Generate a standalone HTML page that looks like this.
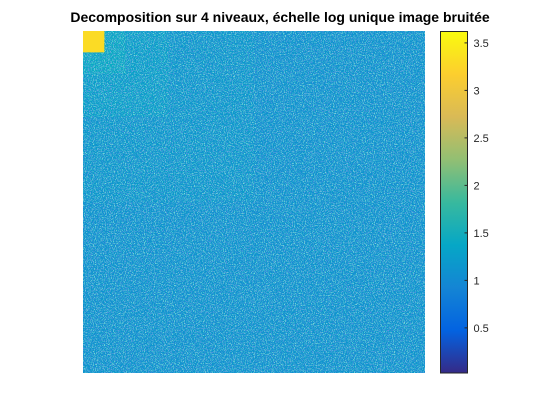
<!DOCTYPE html>
<html><head><meta charset="utf-8">
<style>
body{margin:0;background:#fff;}
svg{display:block;font-family:"Liberation Sans",sans-serif;}
</style></head>
<body>
<svg id="fig" width="560" height="420" viewBox="0 0 560 420">
  <defs>
    <filter id="noise" x="0" y="0" width="100%" height="100%">
      <feTurbulence type="fractalNoise" baseFrequency="0.95" numOctaves="2" seed="3"/>
      <feColorMatrix type="matrix" values="0 0 0 0 0.12  0 0 0 0 0.28  0 0 0 0 0.78  0 0 0 -6 2.75"/>
    </filter>
    <filter id="noise2" x="0" y="0" width="100%" height="100%">
      <feTurbulence type="fractalNoise" baseFrequency="0.9" numOctaves="2" seed="9"/>
      <feColorMatrix type="matrix" values="0 0 0 0 0.2  0 0 0 0 0.72  0 0 0 0 0.68  0 0 0 5 -2.65"/>
    </filter>
    <linearGradient id="parula" x1="0" y1="1" x2="0" y2="0">
      <stop offset="0" stop-color="#352a87"/>
      <stop offset="0.125" stop-color="#0363e1"/>
      <stop offset="0.25" stop-color="#1485d4"/>
      <stop offset="0.375" stop-color="#06a7c6"/>
      <stop offset="0.5" stop-color="#38b99e"/>
      <stop offset="0.625" stop-color="#92bf73"/>
      <stop offset="0.75" stop-color="#d9ba56"/>
      <stop offset="0.875" stop-color="#fcce2e"/>
      <stop offset="1" stop-color="#f9fb0e"/>
    </linearGradient>
  </defs>
  <text x="280" y="22" text-anchor="middle" font-size="14" font-weight="bold" fill="#000">Decomposition sur 4 niveaux, échelle log unique image bruitée</text>
  <g id="image"></g>
  <rect x="83" y="31" width="342" height="342" filter="url(#noise)"/>
  <rect x="83" y="31" width="342" height="342" filter="url(#noise2)"/>
  <g id="approx"></g>
  <g id="colorbar">
    <rect x="440.5" y="31.5" width="27" height="341.5" fill="url(#parula)" stroke="#262626" stroke-width="1"/>
  </g>
</svg>
<script>
// image size in pixels of the source image
const imageSize = 512;
// region blocks: [x0, y0, size] in image pixels, and their mean log value
const blockX = [0, 0, 0, 0];
const blockY = [0, 0, 0, 0];
const blockSize = [512, 256, 128, 64];
const blockValue = [1.12, 1.17, 1.27, 1.4];
// approximation (LL) block
const approxSize = 32;
const approxValue = 3.3;
// colorbar
const cmin = 0.025, cmax = 3.62;
const tickValues = [0.5, 1, 1.5, 2, 2.5, 3, 3.5];
const tickLabels = ["0.5", "1", "1.5", "2", "2.5", "3", "3.5"];

const ax = {x: 83, y: 31, w: 342, h: 342};
const cb = {x: 440.5, y: 31.5, w: 27, h: 341.5};
const NS = "http://www.w3.org/2000/svg";
const px = v => ax.x + v / imageSize * ax.w;
const py = v => ax.y + v / imageSize * ax.h;
const cy = v => cb.y + cb.h - (v - cmin) / (cmax - cmin) * cb.h;

const stops = [[0,[53,42,135]],[0.125,[3,99,225]],[0.25,[20,133,212]],[0.375,[6,167,198]],[0.5,[56,185,158]],[0.625,[146,191,115]],[0.75,[217,186,86]],[0.875,[252,206,46]],[1,[249,251,14]]];
function color(v){
  let t = Math.max(0, Math.min(1, (v - cmin) / (cmax - cmin)));
  for (let i = 1; i < stops.length; i++) {
    if (t <= stops[i][0]) {
      const a = stops[i-1], b = stops[i], f = (t - a[0]) / (b[0] - a[0]);
      const c = a[1].map((x, k) => Math.round(x + (b[1][k] - x) * f));
      return `rgb(${c[0]},${c[1]},${c[2]})`;
    }
  }
  return "rgb(249,251,14)";
}
const img = document.getElementById("image");
for (let i = 0; i < blockValue.length; i++) {
  const r = document.createElementNS(NS, "rect");
  r.setAttribute("x", px(blockX[i]));
  r.setAttribute("y", py(blockY[i]));
  r.setAttribute("width", px(blockX[i] + blockSize[i]) - px(blockX[i]));
  r.setAttribute("height", py(blockY[i] + blockSize[i]) - py(blockY[i]));
  r.setAttribute("fill", color(blockValue[i]));
  
  
  img.appendChild(r);
}
const ap = document.createElementNS(NS, "rect");
ap.setAttribute("x", px(0)); ap.setAttribute("y", py(0));
ap.setAttribute("width", px(approxSize) - px(0));
ap.setAttribute("height", py(approxSize) - py(0));
ap.setAttribute("fill", color(approxValue));


document.getElementById("approx").appendChild(ap);

const cbg = document.getElementById("colorbar");
for (let i = 0; i < tickValues.length; i++) {
  const y = cy(tickValues[i]);
  const t1 = document.createElementNS(NS, "line");
  t1.setAttribute("x1", cb.x + cb.w); t1.setAttribute("x2", cb.x + cb.w - 3);
  t1.setAttribute("y1", y); t1.setAttribute("y2", y);
  t1.setAttribute("stroke", "#262626");
  
  
  cbg.appendChild(t1);
  const tx = document.createElementNS(NS, "text");
  tx.setAttribute("x", cb.x + cb.w + 6);
  tx.setAttribute("y", y + 4);
  tx.setAttribute("font-size", "11");
  tx.setAttribute("fill", "#262626");
  tx.textContent = tickLabels[i];
  
  
  cbg.appendChild(tx);
}
</script>
</body></html>
